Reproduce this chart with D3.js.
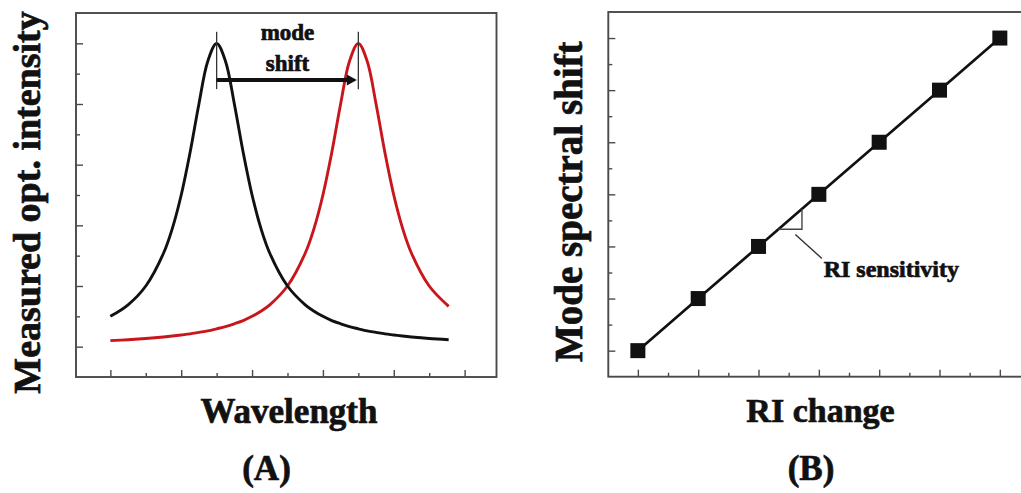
<!DOCTYPE html>
<html>
<head>
<meta charset="utf-8">
<script src="https://cdn.jsdelivr.net/npm/d3@7"></script>
<style>
  html, body { margin: 0; padding: 0; background: #fff; }
  svg { display: block; }
  text { font-family: "Liberation Serif", "Times New Roman", Times, serif; font-weight: bold; fill: #111; }
  text.heavy { stroke: #111; stroke-width: 0.7px; }
</style>
</head>
<body>
<svg id="fig" width="1021" height="493"></svg>
<script>
// ---- Panel A: resonance spectra before / after the mode shift ----
const wavelength = [0, 0.5, 1, 1.5, 1.75, 2, 2.25, 2.5, 2.75, 3, 3.25, 3.5, 3.75, 4, 4.25, 4.5,
                    5, 5.5, 5.75, 6, 6.25, 6.5, 6.75, 7, 7.25, 7.5, 7.75, 8, 8.25, 8.5, 9, 9.55];
const intensityBefore = [1.00, 1.38, 2.00, 3.08, 3.90, 5.00, 6.40, 8.00, 9.41, 10.0, 9.41, 8.00, 6.40, 5.00, 3.90, 3.08,
                         2.00, 1.38, 1.17, 1.00, 0.86, 0.755, 0.66, 0.588, 0.52, 0.47, 0.42, 0.385, 0.35, 0.32, 0.27, 0.23];
const intensityAfter = [0.20, 0.23, 0.27, 0.32, 0.35, 0.385, 0.42, 0.47, 0.52, 0.588, 0.66, 0.755, 0.86, 1.00, 1.17, 1.38,
                        2.00, 3.08, 3.90, 5.00, 6.40, 8.00, 9.41, 10.0, 9.41, 8.00, 6.40, 5.00, 3.90, 3.08, 2.00, 1.33];
const peakBefore = 3;
const peakAfter = 7;
const ticksAX = [0, 1, 2, 3, 4, 5, 6, 7, 8, 9, 10];
const ticksAY = [0, 1, 2, 3, 4, 5, 6, 7, 8, 9, 10];

// ---- Panel B: linear mode shift versus refractive-index change ----
const riChange = [0, 1, 2, 3, 4, 5, 6];
const modeShift = [0, 1, 2, 3, 4, 5, 6];
const ticksBX = [0, 0.5, 1, 1.5, 2, 2.5, 3, 3.5, 4, 4.5, 5, 5.5, 6];
const ticksBY = [0, 0.5, 1, 1.5, 2, 2.5, 3, 3.5, 4, 4.5, 5, 5.5, 6];

const svg = d3.select("#fig");
const frameColor = "#4a4a4a";

// Inward ticks on the bottom and left frame edges; even/integer ticks are longer.
function drawTicks(g, x, y, xt, yt, isMajor) {
  const bottom = y.range()[0], left = x.range()[0];
  const ax = d3.axisBottom(x).tickValues(xt).tickFormat("").tickSizeOuter(0);
  const gx = g.append("g").attr("transform", `translate(0,${bottom})`).call(ax);
  gx.selectAll(".tick line").attr("y2", d => isMajor(d) ? -7 : -4);
  const ay = d3.axisLeft(y).tickValues(yt).tickFormat("").tickSizeOuter(0);
  const gy = g.append("g").attr("transform", `translate(${left},0)`).call(ay);
  gy.selectAll(".tick line").attr("x2", d => isMajor(d) ? 7 : 4);
  [gx, gy].forEach(a => {
    a.select(".domain").remove();
    a.selectAll(".tick line").attr("stroke", frameColor).attr("stroke-width", 1.4);
  });
}

function drawFrame(g, x, y) {
  const [x0, x1] = x.range(), [y0, y1] = y.range();
  g.append("rect")
    .attr("x", x0).attr("y", y1)
    .attr("width", x1 - x0).attr("height", y0 - y1)
    .attr("fill", "none").attr("stroke", frameColor).attr("stroke-width", 1.9);
}

// ---------------- Panel A ----------------
const xA = d3.scaleLinear().domain([-0.97, 10.9]).range([76, 496.5]);
const yA = d3.scaleLinear().domain([-1, 11]).range([377, 13]);
const gA = svg.append("g");

drawFrame(gA, xA, yA);
drawTicks(gA, xA, yA, ticksAX, ticksAY, d => d % 2 === 0);

const lineA = d3.line().x(d => xA(d[0])).y(d => yA(d[1])).curve(d3.curveCatmullRom.alpha(0.5));

gA.append("path")
  .datum(d3.zip(wavelength, intensityAfter))
  .attr("d", lineA).attr("fill", "none")
  .attr("stroke", "#c8161c").attr("stroke-width", 2.9).attr("stroke-linejoin", "round");

gA.append("path")
  .datum(d3.zip(wavelength, intensityBefore))
  .attr("d", lineA).attr("fill", "none")
  .attr("stroke", "#111").attr("stroke-width", 2.9).attr("stroke-linejoin", "round");

// Peak markers and the shift arrow
[peakBefore, peakAfter].forEach(p => {
  gA.append("line")
    .attr("x1", xA(p)).attr("x2", xA(p))
    .attr("y1", yA(10.38)).attr("y2", yA(8.49))
    .attr("stroke", "#333").attr("stroke-width", 1.3);
});
const arrowY = yA(8.79);
const tipX = xA(peakAfter) - 1.5;
gA.append("line")
  .attr("x1", xA(peakBefore)).attr("x2", tipX - 7)
  .attr("y1", arrowY).attr("y2", arrowY)
  .attr("stroke", "#111").attr("stroke-width", 4);
gA.append("path")
  .attr("d", `M${tipX},${arrowY} L${tipX - 10},${arrowY - 5.5} L${tipX - 10},${arrowY + 5.5} Z`)
  .attr("fill", "#111");

const midA = (xA(peakBefore) + xA(peakAfter)) / 2;
gA.append("text").attr("class", "heavy").attr("x", midA).attr("y", 40)
  .attr("text-anchor", "middle").attr("font-size", 23).text("mode");
gA.append("text").attr("class", "heavy").attr("x", midA).attr("y", 70.5)
  .attr("text-anchor", "middle").attr("font-size", 23).text("shift");

gA.append("text").attr("class", "heavy").attr("x", 289).attr("y", 423)
  .attr("text-anchor", "middle").attr("font-size", 35).text("Wavelength");
gA.append("text").attr("class", "heavy").attr("x", 266.5).attr("y", 480)
  .attr("text-anchor", "middle").attr("font-size", 35).text("(A)");
gA.append("text").attr("class", "heavy")
  .attr("transform", "translate(40,202.5) rotate(-90)")
  .attr("text-anchor", "middle").attr("font-size", 38).text("Measured opt. intensity");

// ---------------- Panel B ----------------
const xB = d3.scaleLinear().domain([-0.49, 6.5]).range([608.3, 1030]);
const yB = d3.scaleLinear().domain([-0.5, 6.5]).range([376.7, 12]);
const gB = svg.append("g");

drawFrame(gB, xB, yB);
drawTicks(gB, xB, yB, ticksBX, ticksBY, d => Number.isInteger(d));

const lineB = d3.line().x(d => xB(d[0])).y(d => yB(d[1]));
const ptsB = d3.zip(riChange, modeShift);

gB.append("path")
  .datum(ptsB).attr("d", lineB).attr("fill", "none")
  .attr("stroke", "#111").attr("stroke-width", 2.7);

// Slope triangle marking the sensitivity
const tri = [[2.33, 2.33], [2.72, 2.33], [2.72, 2.72]];
gB.append("path")
  .attr("d", "M" + tri.map(p => `${xB(p[0])},${yB(p[1])}`).join("L"))
  .attr("fill", "none").attr("stroke", "#444").attr("stroke-width", 1.4);
gB.append("line")
  .attr("x1", xB(2.61)).attr("y1", yB(2.23))
  .attr("x2", xB(3.05)).attr("y2", yB(1.77))
  .attr("stroke", "#333").attr("stroke-width", 1.4);
gB.append("text").attr("class", "heavy").attr("x", xB(3.08)).attr("y", 276.5)
  .attr("font-size", 24).text("RI sensitivity");

const sq = 15;
gB.selectAll("rect.pt").data(ptsB).join("rect")
  .attr("class", "pt")
  .attr("x", d => xB(d[0]) - sq / 2).attr("y", d => yB(d[1]) - sq / 2)
  .attr("width", sq).attr("height", sq).attr("fill", "#111");

gB.append("text").attr("class", "heavy").attr("x", 820.5).attr("y", 421.5)
  .attr("text-anchor", "middle").attr("font-size", 34).text("RI change");
gB.append("text").attr("class", "heavy").attr("x", 811).attr("y", 480)
  .attr("text-anchor", "middle").attr("font-size", 35).text("(B)");
gB.append("text").attr("class", "heavy")
  .attr("transform", "translate(582,201.7) rotate(-90)")
  .attr("text-anchor", "middle").attr("font-size", 39).text("Mode spectral shift");
</script>
</body>
</html>
